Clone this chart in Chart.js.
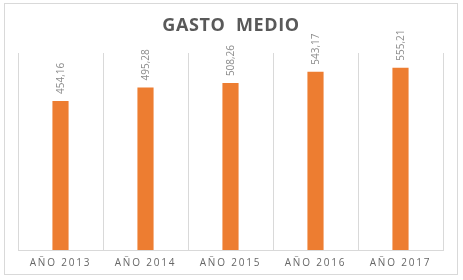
<!DOCTYPE html>
<html>
<head>
<meta charset="utf-8">
<script src="https://cdn.jsdelivr.net/npm/chart.js@4.4.1/dist/chart.umd.min.js"></script>
<style>
  html, body { margin: 0; padding: 0; background: #fff; }
  #wrap { position: relative; width: 463px; height: 280px; }
  #frame { position: absolute; left: 4px; top: 3px; width: 452px; height: 270px; border: 1px solid #d9d9d9; }
  canvas { position: absolute; left: 0; top: 0; }
</style>
</head>
<body>
<div id="wrap">
  <div id="frame"></div>
  <canvas id="chart" width="463" height="280"></canvas>
</div>
<script>
// Datos del gráfico
const years  = ['AÑO 2013', 'AÑO 2014', 'AÑO 2015', 'AÑO 2016', 'AÑO 2017'];
const gasto  = [454.16, 495.28, 508.26, 543.17, 555.21];
const yMax   = 600;

// Formato con coma decimal
function fmt(v) {
  return v.toFixed(2).replace('.', ',');
}

// Título y etiquetas de valor a mano
const extras = {
  id: 'extras',
  beforeDraw(chart) {
    chart.ctx.letterSpacing = '1.8px';
  },
  beforeDatasetsDraw(chart) {
    chart.ctx.letterSpacing = '0px';
  },
  afterDatasetsDraw(chart) {
    const ctx = chart.ctx;
    const meta = chart.getDatasetMeta(0);
    ctx.save();
    ctx.font = '10px "Open Sans"';
    ctx.fillStyle = '#8c8c8c';
    ctx.textAlign = 'left';
    ctx.textBaseline = 'middle';
    meta.data.forEach((bar, i) => {
      ctx.save();
      ctx.translate(bar.x + 1, bar.y - 7);
      ctx.rotate(-Math.PI / 2);
      ctx.fillText(fmt(gasto[i]), 0, 0);
      ctx.restore();
    });
    // Título
    ctx.font = 'bold 18px "Open Sans"';
    ctx.letterSpacing = '0.6px';
    ctx.fillStyle = '#595959';
    ctx.textAlign = 'center';
    ctx.fillText('GASTO  MEDIO', 231, 26);
    ctx.restore();
  }
};

const ctx = document.getElementById('chart').getContext('2d');
new Chart(ctx, {
  type: 'bar',
  data: {
    labels: years,
    datasets: [{
      data: gasto,
      backgroundColor: '#ed7d31',
      barPercentage: 0.19,
      categoryPercentage: 1
    }]
  },
  options: {
    responsive: false,
    animation: false,
    layout: { padding: { left: 18, right: 20, top: 53, bottom: 4 } },
    plugins: {
      legend: { display: false },
      title: { display: false },
      tooltip: { enabled: false }
    },
    scales: {
      x: {
        grid: { color: '#d9d9d9', offset: true, drawTicks: false },
        border: { color: '#d9d9d9' },
        ticks: {
          color: '#666666',
          font: { family: '"Open Sans"', size: 10 },
          padding: 7
        }
      },
      y: {
        display: false,
        min: 0,
        max: yMax
      }
    }
  },
  plugins: [extras]
});
</script>
</body>
</html>
